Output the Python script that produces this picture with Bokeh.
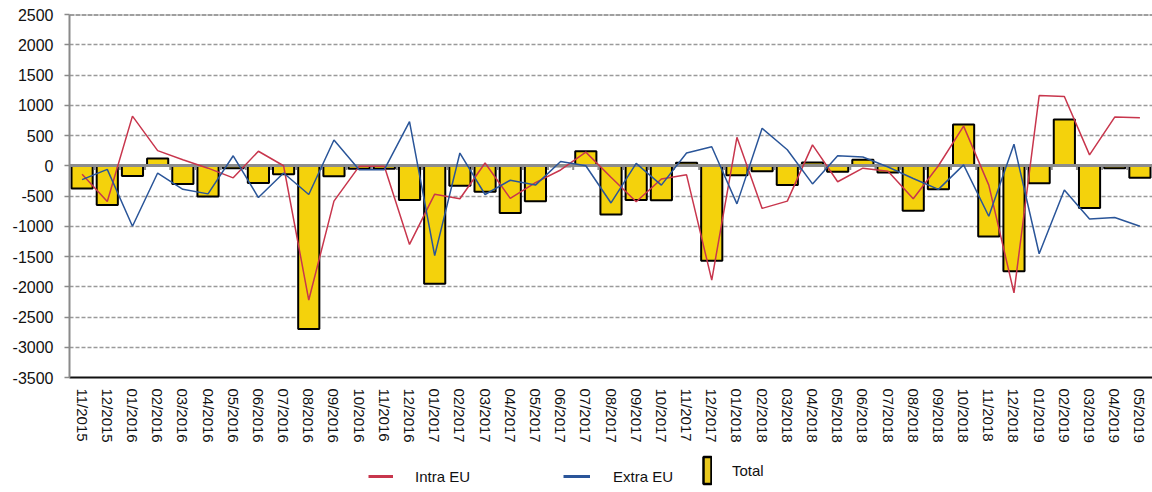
from bokeh.plotting import figure
from bokeh.layouts import column
from bokeh.models import FactorRange, Range1d, FixedTicker, Legend, LegendItem, ColumnDataSource
from bokeh.transform import dodge
from bokeh.embed import file_html
from bokeh.resources import INLINE

months = ["11/2015", "12/2015",
          "01/2016", "02/2016", "03/2016", "04/2016", "05/2016", "06/2016",
          "07/2016", "08/2016", "09/2016", "10/2016", "11/2016", "12/2016",
          "01/2017", "02/2017", "03/2017", "04/2017", "05/2017", "06/2017",
          "07/2017", "08/2017", "09/2017", "10/2017", "11/2017", "12/2017",
          "01/2018", "02/2018", "03/2018", "04/2018", "05/2018", "06/2018",
          "07/2018", "08/2018", "09/2018", "10/2018", "11/2018", "12/2018",
          "01/2019", "02/2019", "03/2019", "04/2019", "05/2019"]

total = [-375, -650, -170, 120, -300, -510, -40, -285, -140, -2700, -175, -50, -50,
         -565, -1950, -330, -430, -780, -585, -10, 240, -805, -565, -570, 50, -1570,
         -155, -90, -320, 55, -100, 100, -110, -745, -390, 680, -1170, -1745,
         -290, 765, -700, -40, -200]

intra = [-140, -590, 820, 250, 100, -40, -200, 240, 0, -2220, -585, -10, -10,
         -1300, -470, -545, 45, -540, -280, -70, 225, -190, -595, -220, -150, -1890,
         470, -705, -585, 345, -265, -40, -90, -545, 0, 655, -320, -2100,
         1160, 1145, 180, 805, 795]

extra = [-230, -60, -1000, -120, -390, -465, 165, -525, -120, -475, 425, -65, -65,
         730, -1485, 210, -475, -240, -320, 70, 0, -615, 40, -320, 210, 315,
         -630, 620, 265, -300, 165, 145, -20, -210, -390, 15, -835, 355,
         -1455, -400, -880, -855, -1000]

y_ticks = [-3500, -3000, -2500, -2000, -1500, -1000, -500, 0, 500, 1000, 1500, 2000, 2500]
y_tick_labels = ["-3500", "-3000", "-2500", "-2000", "-1500", "-1000", "-500",
                 "0", "500", "1000", "1500", "2000", "2500"]
Y_MIN, Y_MAX = -3500, 2500

series_names = ["Intra EU", "Extra EU", "Total"]

FONT = "Liberation Sans"
RED = "#C8364D"
BLUE = "#2A5599"
YELLOW = "#F4D20C"

src = ColumnDataSource(dict(m=months, total=total, intra=intra, extra=extra))

p = figure(width=1152, height=448,
           x_range=FactorRange(factors=months), y_range=Range1d(Y_MIN, Y_MAX),
           output_backend="svg", toolbar_location=None,
           min_border_left=69, min_border_right=0, min_border_top=14, min_border_bottom=71)
p.outline_line_color = None
p.background_fill_color = "white"
p.border_fill_color = "white"

# grid
p.xgrid.visible = False
p.ygrid.ticker = FixedTicker(ticks=[t for t in y_ticks if t not in (0, Y_MIN, Y_MAX)])
p.ygrid.grid_line_color = "#9a9a9a"
p.ygrid.grid_line_dash = "4 2"
p.ygrid.grid_line_width = 1.3

# y axis
p.yaxis.ticker = FixedTicker(ticks=y_ticks)
p.yaxis.major_label_overrides = dict(zip(y_ticks, y_tick_labels))
p.yaxis.axis_line_color = "#8a8a8a"
p.yaxis.axis_line_width = 2
p.yaxis.major_tick_line_color = "#8a8a8a"
p.yaxis.major_tick_line_width = 1.5
p.yaxis.major_tick_out = 5
p.yaxis.major_tick_in = 0
p.yaxis.minor_tick_line_color = None
p.yaxis.major_label_standoff = 11
p.yaxis.major_label_text_font = FONT
p.yaxis.major_label_text_font_size = "16px"
p.yaxis.major_label_text_color = "#111111"

# x axis
p.xaxis.axis_line_color = "#111111"
p.xaxis.axis_line_width = 2
p.xaxis.major_tick_line_color = None
p.xaxis.major_tick_out = 0
p.xaxis.major_tick_in = 0
p.xaxis.minor_tick_line_color = None
p.xaxis.major_label_orientation = "vertical"
p.xaxis.major_label_standoff = 11
p.xaxis.major_label_text_font = FONT
p.xaxis.major_label_text_font_size = "15px"
p.xaxis.major_label_text_color = "#111111"

# top border line
p.hspan(y=[Y_MAX], line_color="#404040", line_width=2, line_dash="5 1")

bar_style = dict(fill_color=YELLOW, line_color="black", line_width=2)
p.vbar(x="m", top="total", bottom=0, width=0.84, source=src, **bar_style)

# zero line with category boundary ticks
p.hspan(y=[0], line_color="#8c8c8c", line_width=3)
p.segment(x0=dodge("m", 0.5, range=p.x_range), y0=0,
          x1=dodge("m", 0.5, range=p.x_range), y1=-70,
          source=src, line_color="#8c8c8c", line_width=2)

p.line(x="m", y="intra", source=src, line_color=RED, line_width=1.5)
p.line(x="m", y="extra", source=src, line_color=BLUE, line_width=1.5)

# legend strip below the chart (its frame is aligned with the chart's frame)
lg = figure(width=1152, height=44, x_range=Range1d(0, 1), y_range=Range1d(0, 1),
            output_backend="svg", toolbar_location=None,
            x_axis_type=None, y_axis_type=None,
            min_border_left=69, min_border_right=0, min_border_top=0, min_border_bottom=0)
lg.outline_line_color = None
lg.xgrid.visible = False
lg.ygrid.visible = False
# legend proxies: no drawable data, only used for the legend glyphs
nan = float("nan")
proxy = ColumnDataSource(dict(x=[nan], y=[nan], top=[nan]))
d_intra = lg.line(x="x", y="y", source=proxy, line_color=RED, line_width=3)
d_extra = lg.line(x="x", y="y", source=proxy, line_color=BLUE, line_width=3)
d_total = lg.vbar(x="x", top="top", bottom=nan, width=0.1, source=proxy,
                  fill_color="#E8C81E", line_color="black", line_width=2.5)

legend_specs = [
    (series_names[0], d_intra, (299, 6), 25, 20, 22),
    (series_names[1], d_extra, (494, 6), 27, 20, 23),
    (series_names[2], d_total, (633, 5), 10, 34, 20),
]
for label, rend, loc, gw, gh, st in legend_specs:
    leg = Legend(items=[LegendItem(label=label, renderers=[rend])], location=loc,
                 orientation="horizontal", glyph_width=gw, glyph_height=gh,
                 label_standoff=st, padding=0, margin=0, spacing=0,
                 border_line_color=None, background_fill_alpha=0,
                 label_text_font=FONT, label_text_font_size="15px",
                 label_text_color="#111111", label_height=gh)
    lg.add_layout(leg, "center")

layout = column(p, lg, spacing=0)
open("out.html", "w").write(file_html(layout, INLINE))
